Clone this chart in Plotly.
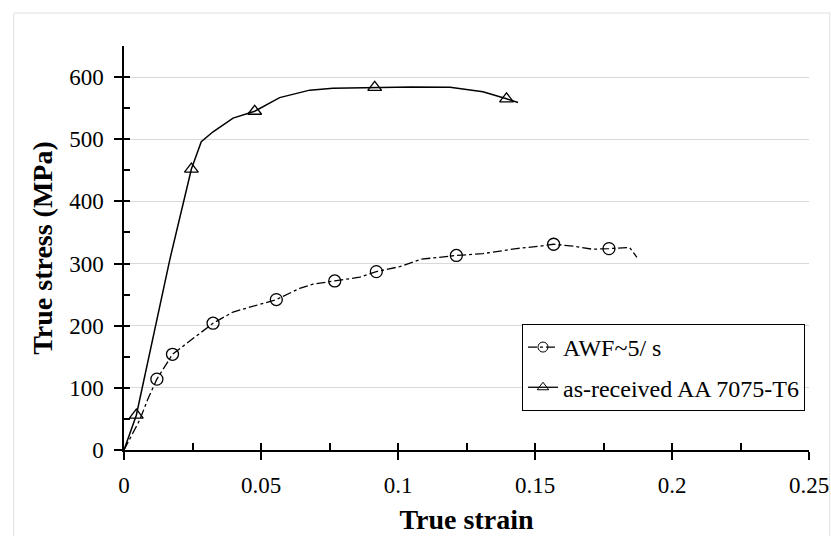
import plotly.graph_objects as go

# True stress-strain curves
strain_asrec = [0, 0.0045, 0.0167, 0.0246, 0.0282, 0.0325, 0.0398, 0.0477, 0.0568,
                0.0678, 0.0762, 0.0915, 0.105, 0.119, 0.131, 0.1396, 0.1438]
stress_asrec = [0, 56, 306, 452, 496, 512, 534, 545, 567,
                579, 582, 583.5, 584, 583.5, 576.5, 565, 559]
marks_asrec = [1, 3, 7, 11, 15]

strain_awf = [0, 0.002, 0.0057, 0.0088, 0.012, 0.0177, 0.0252, 0.0325, 0.0398, 0.0483,
              0.0556, 0.0641, 0.069, 0.0769, 0.086, 0.0921, 0.1006, 0.1085, 0.1213,
              0.131, 0.1432, 0.1517, 0.1568, 0.1639, 0.171, 0.177, 0.1845, 0.1872]
stress_awf = [0, 16, 48, 83, 114, 154, 180, 204, 222, 233,
              242, 260, 267, 272, 278, 287, 295, 307, 313,
              316, 324, 328, 331, 328, 323, 324, 326, 310]
marks_awf = [4, 5, 7, 10, 13, 15, 18, 22, 25]

series_names = ["AWF~5/ s", "as-received AA 7075-T6"]
x_ticks = [0, 0.05, 0.1, 0.15, 0.2, 0.25]
x_tick_text = ["0", "0.05", "0.1", "0.15", "0.2", "0.25"]

FONT = "Liberation Serif"
X_RANGE = [0, 0.25]
Y_RANGE = [0, 650]

fig = go.Figure()

# curves
fig.add_trace(go.Scatter(x=strain_asrec, y=stress_asrec, mode="lines",
                         line=dict(color="black", width=1.5), showlegend=False,
                         hoverinfo="skip"))
fig.add_trace(go.Scatter(x=strain_awf, y=stress_awf, mode="lines",
                         line=dict(color="black", width=1.3, dash="dashdot"),
                         showlegend=False, hoverinfo="skip"))

# open markers on selected samples
fig.add_trace(go.Scatter(x=[strain_asrec[i] for i in marks_asrec],
                         y=[stress_asrec[i] for i in marks_asrec], mode="markers",
                         marker=dict(symbol="triangle-up-open", size=12, color="black",
                                     line=dict(width=1.3)),
                         showlegend=False))
fig.add_trace(go.Scatter(x=[strain_awf[i] for i in marks_awf],
                         y=[stress_awf[i] for i in marks_awf], mode="markers",
                         marker=dict(symbol="circle-open", size=12, color="black",
                                     line=dict(width=1.3)),
                         showlegend=False))

# legend entries (line + marker samples)
fig.add_trace(go.Scatter(x=[None], y=[None], mode="lines+markers", name=series_names[0],
                         legendgroup="a", xaxis="x2", yaxis="y2",
                         line=dict(color="black", width=1.3, dash="dashdot"),
                         marker=dict(symbol="circle-open", size=10, color="black")))
fig.add_trace(go.Scatter(x=[None], y=[None], mode="lines+markers", name=series_names[1],
                         legendgroup="b", xaxis="x2", yaxis="y2",
                         line=dict(color="black", width=1.3),
                         marker=dict(symbol="triangle-up-open", size=10, color="black")))

tickfont = dict(family=FONT, size=23, color="black")
titlefont = dict(family=FONT, size=28, color="black")

fig.update_layout(
    width=831, height=536,
    margin=dict(l=124, r=22, t=46, b=86),
    paper_bgcolor="white", plot_bgcolor="white",
    font=dict(family=FONT, color="black"),
    xaxis=dict(range=X_RANGE, tickvals=x_ticks, ticktext=x_tick_text,
               ticks="outside", ticklen=8, tickwidth=1.5, tickcolor="black",
               showline=True, linecolor="black", linewidth=1.5, automargin=False,
               showgrid=False, zeroline=False, tickfont=tickfont, ticklabelstandoff=6,
               title=dict(text="<b>True strain</b>", font=titlefont, standoff=12)),
    yaxis=dict(range=Y_RANGE, dtick=100, tick0=0,
               ticks="outside", ticklen=8, tickwidth=1.5, tickcolor="black",
               showline=True, linecolor="black", linewidth=1.5, automargin=False,
               showgrid=True, gridcolor="#d9d9d9", gridwidth=1,
               zeroline=False, tickfont=tickfont, ticklabelstandoff=6,
               title=dict(text="<b>True stress (MPa)</b>", font=titlefont, standoff=8)),
    # companion axes carrying the inner half of the tick marks
    xaxis2=dict(range=X_RANGE, overlaying="x", anchor="y2", side="bottom",
                dtick=0.025, tick0=0, ticks="inside", ticklen=7, tickwidth=1.5,
                tickcolor="black", showticklabels=False, showline=False,
                showgrid=False, zeroline=False, automargin=False),
    yaxis2=dict(range=Y_RANGE, overlaying="y", anchor="x2", side="left",
                dtick=50, tick0=0, ticks="inside", ticklen=6, tickwidth=1.5,
                tickcolor="black", showticklabels=False, showline=False,
                showgrid=False, zeroline=False, automargin=False),
    legend=dict(x=0.581, y=0.312, xanchor="left", yanchor="top",
                bgcolor="white", bordercolor="black", borderwidth=1,
                font=dict(family=FONT, size=24, color="black"),
                traceorder="grouped", tracegroupgap=6, itemwidth=30),
    shapes=[dict(type="rect", xref="paper", yref="paper",
                 x0=-0.161, x1=1.0302, y0=-0.25, y1=1.0817,
                 line=dict(color="#e0e0e0", width=1), layer="below")],
)

fig.write_html("out.html")
